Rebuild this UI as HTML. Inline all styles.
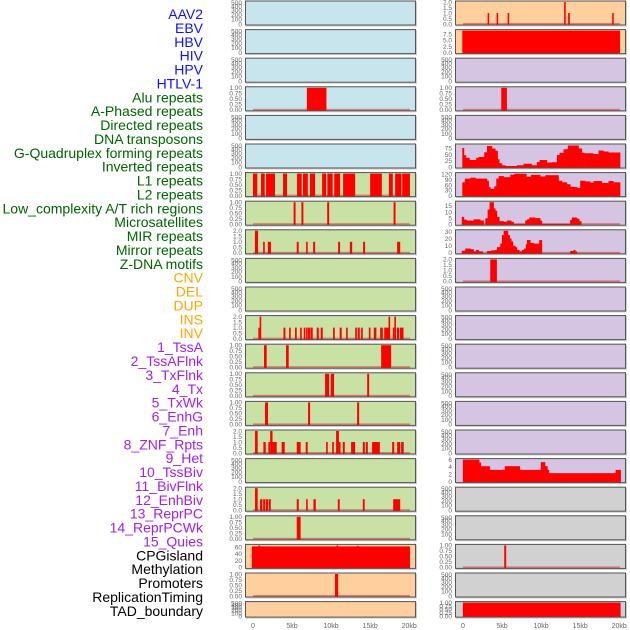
<!DOCTYPE html>
<html><head><meta charset="utf-8"><style>
html,body{margin:0;padding:0;background:#fff;}
svg{display:block;font-family:"Liberation Sans",sans-serif;}
</style></head><body>
<svg id="chart" width="630" height="630" viewBox="0 0 630 630"></svg>
<script>
const labels=["AAV2","EBV","HBV","HIV","HPV","HTLV-1","Alu repeats","A-Phased repeats","Directed repeats","DNA transposons","G-Quadruplex forming repeats","Inverted repeats","L1 repeats","L2 repeats","Low_complexity A/T rich regions","Microsatellites","MIR repeats","Mirror repeats","Z-DNA motifs","CNV","DEL","DUP","INS","INV","1_TssA","2_TssAFlnk","3_TxFlnk","4_Tx","5_TxWk","6_EnhG","7_Enh","8_ZNF_Rpts","9_Het","10_TssBiv","11_BivFlnk","12_EnhBiv","13_ReprPC","14_ReprPCWk","15_Quies","CPGisland","Methylation","Promoters","ReplicationTiming","TAD_boundary"];
const xTickLabels=["0","5kb","10kb","15kb","20kb"];
const xTickValues=[0,5,10,15,20];
// bar data [startKb,endKb,value]
const L3bars=[[6.9,9.4,1]];
const L6bars=[[0,0.55,1],[1.03,1.5,1],[1.67,2.82,1],[3.85,4.36,1],[5.64,6.24,1],[6.4,7.02,1],[7.3,7.95,1],[8.85,9.36,1],[9.52,10.2,1],[10.4,11.15,1],[11.54,13.08,1],[15,16.5,1],[17.4,17.9,1],[18.2,19,1],[19.1,20.1,1]];
const L7bars=[[5.2,5.45,1],[6.2,6.45,1],[9.5,9.75,1],[18,18.25,1]];
const L8bars=[[0.25,0.65,2],[1.3,1.5,1],[1.9,2.3,1],[5.6,5.85,1],[6.8,7.0,1],[7.7,7.95,1],[10.9,11.15,1],[12.4,12.7,1],[14.1,14.35,1],[18.45,18.85,1]];
const L11bars=[[0.68,0.85,1],[0.85,1.0,2],[3.9,4.15,1],[4.62,4.83,1],[5.38,5.6,1],[6.03,6.24,1],[6.5,6.7,1],[6.8,7.0,1],[7.05,7.3,1],[7.35,7.65,1],[8.16,8.42,1],[8.67,8.93,1],[10.25,10.47,1],[11.1,11.36,1],[11.92,12.13,1],[13.08,13.3,1],[13.4,13.67,1],[13.85,14.06,1],[14.83,15.04,1],[15.47,15.8,1],[16.28,16.62,1],[16.8,17.35,1],[17.35,17.56,2],[17.9,18.1,1],[18.1,18.29,2],[18.42,18.7,1],[18.8,19.27,1]];
const L12bars=[[1.41,1.75,1],[4.23,4.57,1],[16.41,17.69,1]];
const L13bars=[[9.23,9.74,1],[9.96,10.38,1],[14.62,14.87,1]];
const L14bars=[[1.54,1.92,1],[7.05,7.31,1],[13.33,13.59,1]];
const L15bars=[[0.26,0.6,2],[1.33,1.63,1],[1.97,2.2,1],[2.2,2.5,2],[2.5,3.04,1],[3.67,4.06,1],[5.6,6.1,1],[6.75,7.0,1],[9.36,9.57,1],[10.13,10.35,1],[10.64,11.0,2],[11.0,11.15,1],[11.5,11.75,1],[12.56,13.08,1],[14.06,14.32,1],[14.45,14.7,1],[15.25,16.24,1],[17.82,18.08,1],[18.46,18.85,1],[18.97,19.3,1]];
const L17bars=[[0.26,0.6,2],[0.9,1.2,1],[1.3,1.55,1],[1.63,1.94,1],[2.03,2.28,1],[5.6,5.86,1],[6.8,7.0,1],[7.74,8.04,1],[10.86,11.1,1],[14.06,14.3,1],[17.95,18.85,1]];
const L18bars=[[5.6,6.1,1]];
const L19bars=[[-0.15,20.1,62],[0.7,0.8,65],[10.7,10.8,65],[13.3,13.4,64]];
const L20bars=[[10.5,10.9,1]];
const R0bars=[[3.15,3.32,1],[4.3,4.47,1],[5.71,5.88,1],[12.95,13.13,2],[13.46,13.68,1],[19.1,19.3,1]];
const R1bars=[[-0.09,20.1,9]];
const R3bars=[[4.9,5.62,1]];
const R9bars=[[3.49,4.34,2]];
const R19bars=[[5.28,5.53,1]];
const R21bars=[[-0.02,20.18,1]];
// step series: edges (kb) and values
const gquadEdges=[-0.09,0.12,0.38,0.81,1.70,2.0,2.72,3.07,3.7,4.13,4.43,4.64,4.98,5.41,6.9,7.75,8.82,9.46,9.8,10.74,11.38,12.02,12.36,12.87,13.43,14.79,15.21,15.51,16.7,17.35,17.98,18.62,20.11];
const gquadValues=[76,47,37,28,37,40,59,84,74,65,31,15,7,4,7,13,7,20,28,18,19,48,57,71,86,74,57,55,52,66,62,58];
const l1Edges=[-0.09,0.26,0.95,1.59,3.07,3.28,3.49,4.0,4.26,4.56,5.2,6.05,6.56,8.1,8.69,9.89,10.53,12.23,12.66,13.3,13.73,14.58,15.0,15.64,16.28,16.7,17.77,18.62,19.26,20.11];
const l1Values=[75,96,101,96,84,49,38,52,96,110,104,118,123,106,117,108,115,84,75,64,49,43,84,80,73,82,71,82,75];
const lowEdges=[-0.16,0.12,0.46,1.36,2.2,2.64,2.85,3.15,3.4,3.92,4.13,4.34,4.64,5.2,5.62,6.18,6.47,7.96,8.18,8.48,9.24,9.88,10.1,13.72,13.93,14.57,14.87,15.13];
const lowValues=[6,3.7,3,4,3,0,4.8,12,18,13,11,6,2.5,2,3,2,0.3,3,4,5.5,5,3,0.3,3.5,5.5,4.5,2.5];
const microEdges=[-0.16,0.29,0.94,1.36,1.66,2.0,2.52,3.07,3.63,4.13,4.34,4.77,4.98,5.2,5.75,5.97,6.18,6.39,6.69,6.9,7.2,7.54,7.8,8.05,8.18,8.61,9.03,9.76,10.1,13.72,14.15,14.36,14.57];
const microValues=[3,6,5,2,4,2,0,2.5,3.5,4,8,13,25,31,25,20,16,10,8,4,2,4,6,12,18,14,13,18,0,2.5,4,2];
const hetEdges=[-0.02,2.07,2.28,3.4,5.35,7.27,9.96,10.5,10.8,11.0,19.54,20.18];
const hetValues=[6,5.2,4.2,3.2,4.2,3.2,5.3,4.2,3.2,2.3,3.2];

const colors={blue:"#c8e4ec",green:"#c9e1a5",orange:"#ffd09e",purple:"#d5c5e2",gray:"#d1d1d1"};
const emptyTicks=[[0,0],[100,0.22],[200,0.43],[300,0.63],[400,0.82],[500,0.97]];
function lin(vals,max){return vals.map(v=>[v,v/max]);}
function fmt(v,d){return v.toFixed(d);}
const T01=lin([0,0.25,0.5,0.75,1],1).map(t=>[fmt(t[0],2),t[1]]);
const T02=lin([0,0.5,1,1.5,2],2).map(t=>[fmt(t[0],1),t[1]]);
const E=emptyTicks.map(t=>[String(t[0]),t[1]]);
function P(col,row,bg,ticks,yMax,bars,step,base){return {col,row,bg,ticks,yMax,bars,step,base};}
const panels=[
P(0,0,"blue",E,1),P(0,1,"blue",E,1),P(0,2,"blue",E,1),P(0,3,"blue",T01,1,L3bars,null,1),P(0,4,"blue",E,1),P(0,5,"blue",E,1),
P(0,6,"green",T01,1,L6bars,null,1),P(0,7,"green",T01,1,L7bars,null,1),P(0,8,"green",T02,2,L8bars,null,1),P(0,9,"green",E,1),P(0,10,"green",E,1),
P(0,11,"green",T02,2,L11bars,null,1),P(0,12,"green",T01,1,L12bars,null,1),P(0,13,"green",T01,1,L13bars,null,1),P(0,14,"green",T01,1,L14bars,null,1),
P(0,15,"green",T02,2,L15bars,null,1),P(0,16,"green",E,1),P(0,17,"green",T02,2,L17bars,null,1),P(0,18,"green",T01,1,L18bars,null,1),
P(0,19,"orange",[0,20,40,60].map(v=>[String(v),v/65]),65,L19bars,null,1),P(0,20,"orange",T01,1,L20bars,null,1),P(0,21,"orange",E,1),
P(1,0,"orange",T02,2,R0bars,null,1),P(1,1,"orange",[0,2.5,5,7.5].map(v=>[fmt(v,1),v/9]),9,R1bars,null,0),P(1,2,"purple",E,1),P(1,3,"purple",T01,1,R3bars,null,1),P(1,4,"purple",E,1),
P(1,5,"purple",[0,25,50,75].map(v=>[String(v),v/88]),88,null,[gquadEdges,gquadValues],0),
P(1,6,"purple",[0,30,60,90,120].map(v=>[String(v),v/124]),124,null,[l1Edges,l1Values],0),
P(1,7,"purple",[0,5,10,15].map(v=>[String(v),v/18]),18,null,[lowEdges,lowValues],1),
P(1,8,"purple",[0,10,20,30].map(v=>[String(v),v/31]),31,null,[microEdges,microValues],1),
P(1,9,"purple",T02,2,R9bars,null,1),
P(1,10,"purple",E,1),P(1,11,"purple",E,1),P(1,12,"purple",E,1),P(1,13,"purple",E,1),P(1,14,"purple",E,1),P(1,15,"purple",E,1),
P(1,16,"purple",[0,2,4,6].map(v=>[String(v),v/6]),6,null,[hetEdges,hetValues],0),
P(1,17,"gray",E,1),P(1,18,"gray",E,1),P(1,19,"gray",T01,1,R19bars,null,1),P(1,20,"gray",E,1),
P(1,21,"gray",T01,1,R21bars,null,0)
];
const svg=document.getElementById('chart');
const NS="http://www.w3.org/2000/svg";
function el(tag,attrs,parent){const e=document.createElementNS(NS,tag);for(const k in attrs)e.setAttribute(k,attrs[k]);(parent||svg).appendChild(e);return e;}
const labelColor=i=>i<6?"#1010ff":i<19?"#006400":i<24?"#ffa500":i<39?"#a020f0":"#000";
labels.forEach((t,i)=>{
  const e=el('text',{x:203,y:19+i*13.88,'text-anchor':'end','font-size':14,fill:labelColor(i)});
  e.textContent=t;
  
  
});
const colX=[245,455], PW=171;
function xs(col,kb){return colX[col]+8+kb*7.81;}
panels.forEach((p,idx)=>{
  const top=0.5+p.row*28.6, H=p.row<21?25:16.5;
  const g=el('g',{});
  
  
  const x0=colX[p.col];
  el('rect',{x:x0+1,y:top+1,width:PW,height:H,fill:'#999','fill-opacity':0.5},g);
  el('rect',{x:x0,y:top,width:PW,height:H,fill:colors[p.bg]},g);
  const yb=top+H-1.5, yt=top+1.5;
  const ys=v=>yb-v/p.yMax*(yb-yt);
  const cid='c'+idx;
  const cp=el('clipPath',{id:cid},g);el('rect',{x:x0,y:top,width:PW,height:H},cp);
  const mg=el('g',{'clip-path':'url(#'+cid+')'},g);
  if(p.base) el('rect',{x:xs(p.col,0),y:yb-1,width:xs(p.col,20.1)-xs(p.col,0),height:1.6,fill:'#d23030','fill-opacity':0.55},mg);
  if(p.bars) p.bars.forEach(b=>{
    const a=xs(p.col,b[0]),w=Math.max(1.6,xs(p.col,b[1])-a);
    const r=el('rect',{x:a,y:ys(b[2]),width:w,height:yb-ys(b[2])+1,fill:'#ff0000'},mg);
    
    
  });
  if(p.step){
    const [ed,vals]=p.step;
    vals.forEach((v,i)=>{
      if(v<=0)return;
      const a=xs(p.col,ed[i]),w=xs(p.col,ed[i+1])-a+0.3;
      const r=el('rect',{x:a,y:ys(v),width:w,height:yb-ys(v)+1,fill:'#ff0000'},mg);
      
      
    });
  }
  el('rect',{x:x0+0.5,y:top+0.5,width:PW-1,height:H-1,fill:'none',stroke:'#555','stroke-width':1},g);
  p.ticks.forEach(t=>{
    const ty=yb-t[1]*(yb-yt);
    const e=el('text',{x:x0-3,y:ty+2.3,'text-anchor':'end','font-size':6.5,fill:'#666'},g);
    e.textContent=t[0];
  });
});
[0,1].forEach(c=>{
  xTickValues.forEach((v,i)=>{
    const e=el('text',{x:xs(c,v),y:628,'text-anchor':'middle','font-size':7,fill:'#666'});
    e.textContent=xTickLabels[i];
    
    
  });
});
</script>
</body></html>
